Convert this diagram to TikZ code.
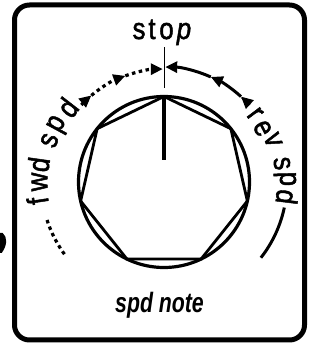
\documentclass[tikz,border=0pt]{standalone}
\usepackage{fontspec}
\setmainfont{Liberation Sans}
\newfontfamily\lblfont[FakeBold=1.8]{Liberation Sans}
\usetikzlibrary{arrows.meta}
\newcommand{\cnd}[1]{\scalebox{0.86}[1]{#1}}
\tikzset{
  frame/.style={line width=5pt, rounded corners=15pt},
  ring/.style={line width=3.2pt},
  hept/.style={line width=2.8pt, line join=miter},
  pointer/.style={line width=3.5pt},
  tick/.style={line width=1pt},
  dotarc/.style={line width=3.2pt, dash pattern=on 3.5pt off 3.5pt},
  solidarc/.style={line width=3pt},
  tip/.style={-{Triangle[length=12pt,width=11pt]}},
  ltr/.style={inner sep=0pt, anchor=center, font=\lblfont\fontsize{30}{33}\selectfont},
  stopltr/.style={inner sep=0pt, anchor=base, font=\lblfont\fontsize{30}{33}\selectfont},
}
\begin{document}
\begin{tikzpicture}[x=1pt,y=1pt]
\useasboundingbox (0,0) rectangle (328,345);
% frame
\draw[frame] (14.5,5) rectangle (304.5,340);
% cut fragment at left edge
\fill (0,112) -- (2.7,112) .. controls (7.5,108) and (7.5,100) .. (1.7,92) -- (0,92) -- cycle;
\begin{scope}[shift={(164,163)}]
  \coordinate (c) at (0,0);
  \draw[ring] (c) circle[radius=85.5];
  \draw[hept] (90:85.5) \foreach \k in {1,...,6}{ -- ({90+\k*360/7}:85.5)} -- cycle;
  \draw[pointer] (0,85) -- (0,22);
  \draw[tick] (0,94) -- (0,135);
  % forward arc (dotted)
  \draw[dotarc, tip] (137:113) arc[start angle=137, end angle=130, radius=113];
  \draw[dotarc, tip] (130:113) arc[start angle=130, end angle=110, radius=113];
  \draw[dotarc, tip] (110:113) arc[start angle=110, end angle=90.6, radius=113];
  \draw[dotarc] (198:123) arc[start angle=198, end angle=217, radius=123];
  % reverse arc (solid)
  \draw[solidarc, tip] (42:115) arc[start angle=42, end angle=48, radius=115];
  \draw[solidarc, tip] (48:115) arc[start angle=48, end angle=66, radius=115];
  \draw[solidarc, tip] (66:115) arc[start angle=66, end angle=89.4, radius=115];
  \draw[solidarc] (-12:123) arc[start angle=-12, end angle=-38, radius=123];
\end{scope}
% stop label
\node[stopltr] (s1) at (139,306) {\cnd{s}};
\node[stopltr] (s2) at (152,306) {\cnd{t}};
\node[stopltr] (s3) at (166.5,306) {\cnd{o}};
\node[stopltr] (s4) at (184,306) {\cnd{\itshape p}};
% fwd spd
\node[ltr, rotate=98.5] (f1) at (37.5,144) {\cnd{f}};
\node[ltr, rotate=90] (f2) at (39.5,163) {\cnd{w}};
\node[ltr, rotate=82] (f3) at (38.5,180.5) {\cnd{d}};
\node[ltr, rotate=70] (f4) at (49.5,204.5) {\cnd{s}};
\node[ltr, rotate=61.6] (f5) at (58.5,220) {\cnd{p}};
\node[ltr, rotate=52.3] (f6) at (67.5,237.5) {\cnd{d}};
% rev spd
\node[ltr, rotate=-53.2] (r1) at (255,231) {\cnd{r}};
\node[ltr, rotate=-62.2] (r2) at (262.5,216.5) {\cnd{e}};
\node[ltr, rotate=-69] (r3) at (273,205) {\cnd{v}};
\node[ltr, rotate=-81.1] (r4) at (282,181.5) {\cnd{s}};
\node[ltr, rotate=-88.6] (r5) at (285,166) {\cnd{p}};
\node[ltr, rotate=-97] (r6) at (287,148) {\cnd{d}};
% bottom note
\node[inner sep=0pt, anchor=base, font=\fontsize{28}{30}\selectfont\bfseries\itshape] (note) at (159.5,32) {\scalebox{0.76}[1]{spd note}};
\end{tikzpicture}
\end{document}
